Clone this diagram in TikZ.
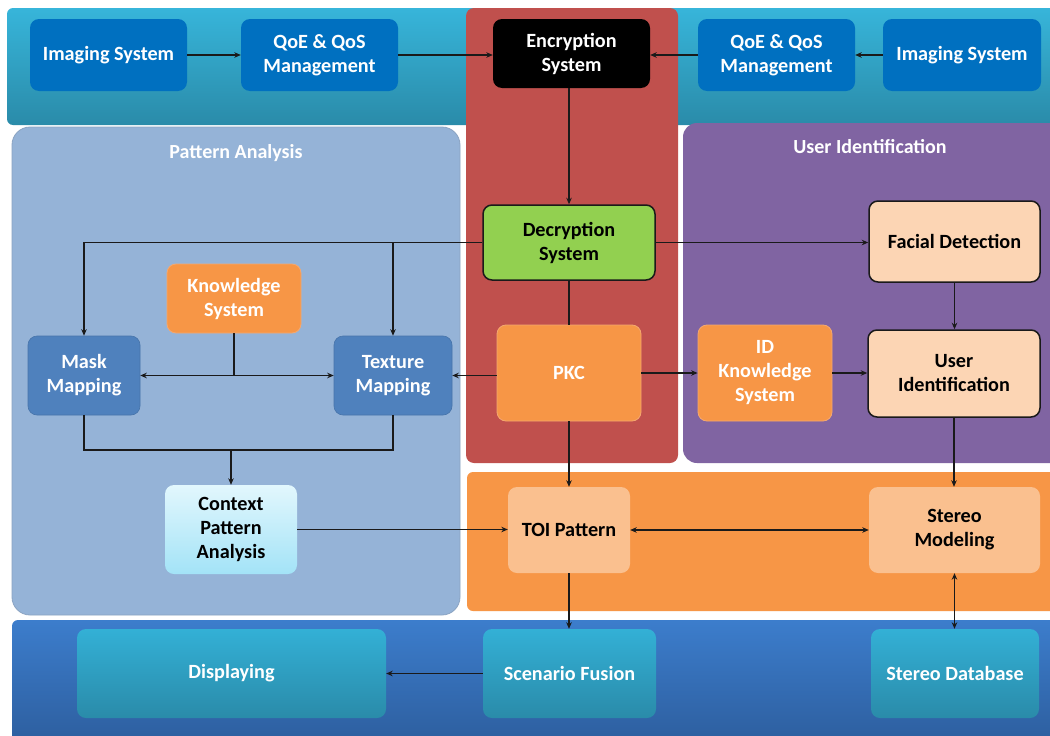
\documentclass[tikz,border=0pt]{standalone}
\usepackage{fontspec}
\setmainfont{Carlito}
\usetikzlibrary{arrows.meta}
\definecolor{bandtop}{HTML}{37B5DA}
\definecolor{bandbot}{HTML}{2A8BA9}
\definecolor{redcol}{HTML}{C0504D}
\definecolor{patpanel}{HTML}{95B3D7}
\definecolor{patborder}{HTML}{8AA3C2}
\definecolor{purp}{HTML}{8064A2}
\definecolor{orng}{HTML}{F79646}
\definecolor{orngb}{HTML}{F4A870}
\definecolor{bottop}{HTML}{3C7DCC}
\definecolor{botbot}{HTML}{2D5E9E}
\definecolor{bluenode}{HTML}{0070C0}
\definecolor{tealtop}{HTML}{33B0D6}
\definecolor{tealbot}{HTML}{2A8BA9}
\definecolor{maskblue}{HTML}{4F81BD}
\definecolor{lightorng}{HTML}{FAC08F}
\definecolor{peach}{HTML}{FCD5B4}
\definecolor{greenn}{HTML}{92D050}
\definecolor{ctxtop}{HTML}{E2F7FD}
\definecolor{ctxbot}{HTML}{A3E3F7}
\definecolor{linec}{HTML}{1A1A1A}
\begin{document}
\begin{tikzpicture}[x=1pt,y=-1pt,
  box/.style={rounded corners=9pt, align=center, inner sep=0pt,
    font=\fontsize{20.2}{24}\selectfont\bfseries},
  bluebox/.style={box, fill=bluenode, text=white},
  orangebox/.style={box, fill=orng, draw=orngb, line width=0.8pt, text=white},
  peachbox/.style={box, fill=peach, draw=linec, line width=1.5pt, text=black},
  lobox/.style={box, fill=lightorng, text=black},
  mapbox/.style={box, fill=maskblue, draw=maskblue!90!black, line width=0.6pt, text=white},
  tealbox/.style={box, top color=tealtop, bottom color=tealbot, text=white},
  paneltitle/.style={text=white, font=\fontsize{20}{24}\selectfont\bfseries},
  conn/.style={draw=linec, line width=1.6pt},
  arr/.style={conn, -{Stealth[length=6.5pt,width=5.5pt]}},
  darr/.style={conn, {Stealth[length=6.5pt,width=5.5pt]}-{Stealth[length=6.5pt,width=5.5pt]}}
]
\useasboundingbox (0,0) rectangle (1050,736);
\fill[white] (0,0) rectangle (1050,736);
% bands and panels
\shade[rounded corners=6pt, top color=bandtop, bottom color=bandbot] (7,8) rectangle (1056,125);
\fill[redcol, rounded corners=8pt] (466,8) rectangle (678,463);
\filldraw[fill=patpanel, draw=patborder, line width=0.8pt, rounded corners=18pt] (12,127) rectangle (460,615);
\fill[purp, rounded corners=14pt] (683,123) rectangle (1065,463);
\fill[orng, rounded corners=6pt] (467,472) rectangle (1065,611);
\shade[rounded corners=6pt, top color=bottop, bottom color=botbot] (12,620) rectangle (1065,745);
\node[paneltitle] (ptitle) at (236,153) {Pattern Analysis};
\node[paneltitle] (utitle) at (870,147) {User Identification};
% top nodes
\node[bluebox, minimum width=157pt, minimum height=72pt] (imgL) at (108.5,55) {Imaging System};
\node[bluebox, minimum width=157pt, minimum height=72pt] (qoeL) at (319.5,55) {QoE \& QoS\\Management};
\node[box, fill=black, text=white, minimum width=157pt, minimum height=69pt] (enc) at (571.5,53.5) {Encryption\\System};
\node[bluebox, minimum width=157pt, minimum height=72pt] (qoeR) at (776.5,55) {QoE \& QoS\\Management};
\node[bluebox, minimum width=158pt, minimum height=72pt] (imgR) at (962,55) {Imaging System};
% middle nodes
\node[box, fill=greenn, draw=linec, line width=1.5pt, text=black, minimum width=172pt, minimum height=75pt] (dec) at (569,242.5) {Decryption\\System};
\node[peachbox, minimum width=171pt, minimum height=81pt] (fac) at (954.5,241.5) {Facial Detection};
\node[orangebox, minimum width=144pt, minimum height=96pt] (pkc) at (569,373) {PKC};
\node[orangebox, minimum width=134pt, minimum height=96pt] (idk) at (765,373) {ID\\Knowledge\\System};
\node[peachbox, minimum width=172pt, minimum height=87pt] (uid) at (954,373.5) {User\\Identification};
\node[orangebox, minimum width=134pt, minimum height=69pt] (know) at (234,298.5) {Knowledge\\System};
\node[mapbox, minimum width=112pt, minimum height=79pt] (mask) at (84,375.5) {Mask\\Mapping};
\node[mapbox, minimum width=118pt, minimum height=79pt] (tex) at (393,375.5) {Texture\\Mapping};
\node[box, top color=ctxtop, bottom color=ctxbot, text=black, minimum width=132pt, minimum height=89pt] (ctx) at (231,529.5) {Context\\Pattern\\Analysis};
\node[lobox, minimum width=122pt, minimum height=86pt] (toi) at (569,530) {TOI Pattern};
\node[lobox, minimum width=171pt, minimum height=86pt] (stm) at (954.5,530) {Stereo\\Modeling};
% bottom nodes
\node[tealbox, minimum width=309pt, minimum height=89pt] (disp) at (231.5,673.5) {Displaying};
\node[tealbox, minimum width=173pt, minimum height=89pt] (scen) at (569.5,673.5) {Scenario Fusion};
\node[tealbox, minimum width=168pt, minimum height=89pt] (sdb) at (955,673.5) {Stereo Database};
% connectors
\draw[arr] (imgL.east) -- (qoeL.west);
\draw[arr] (qoeL.east) -- (qoeL.east -| enc.west);
\draw[arr] (imgR.west) -- (imgR.west -| qoeR.east);
\draw[arr] (qoeR.west) -- (qoeR.west -| enc.east);
\draw[arr] (dec.north |- enc.south) -- (dec.north);
\draw[arr] (dec.west) -| (mask.north);
\draw[arr] (dec.west -| tex.north) -- (tex.north);
\draw[arr] (dec.east) -- (dec.east -| fac.west);
\draw[conn] (dec.south) -- (pkc.north);
\draw[arr] (tex.east -| pkc.west) -- (tex.east);
\draw[arr] (pkc.east) -- (pkc.east -| idk.west);
\draw[arr] (idk.east) -- (idk.east -| uid.west);
\draw[arr] (fac.south) -- (fac.south |- uid.north);
\coordinate (kj) at (know.south |- mask.east);
\draw[conn] (know.south) -- (kj);
\draw[arr] (kj) -- (mask.east);
\draw[arr] (kj) -- (tex.west);
\coordinate (mj) at (84,450);
\draw[conn] (mask.south) -- (mj) -| (tex.south);
\coordinate (cj) at (ctx.north |- mj);
\draw[arr] (cj) -- (ctx.north);
\draw[arr] (ctx.east) -- (ctx.east -| toi.west);
\draw[arr] (pkc.south) -- (pkc.south |- toi.north);
\draw[darr] (toi.east) -- (toi.east -| stm.west);
\draw[arr] (uid.south) -- (uid.south |- stm.north);
\draw[arr] (toi.south) -- (toi.south |- scen.north);
\draw[arr] (scen.west) -- (disp.east);
\draw[darr] (stm.south) -- (stm.south |- sdb.north);
\end{tikzpicture}
\end{document}
